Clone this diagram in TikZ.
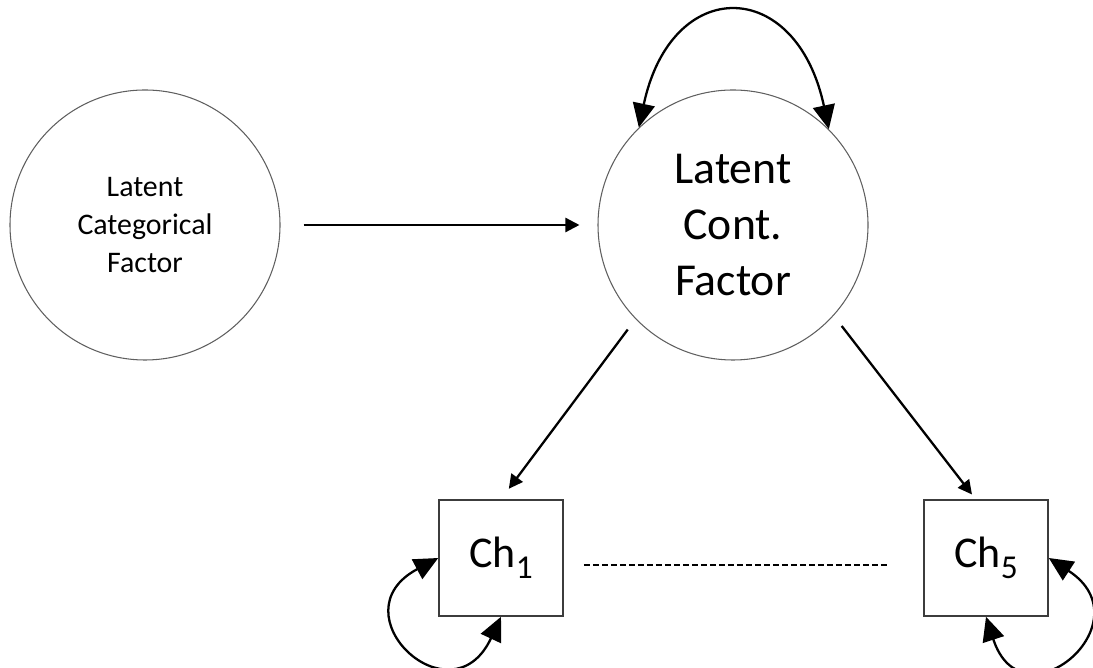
\documentclass[tikz,border=0pt]{standalone}
\usepackage{fontspec}
\setmainfont{Carlito}
\usetikzlibrary{arrows.meta, positioning}
\definecolor{ringgray}{RGB}{95, 95, 95}
\definecolor{boxgray}{RGB}{60, 60, 60}
\newcommand{\chsub}[1]{\raisebox{-0.25em}{\fontsize{19}{19}\selectfont #1}}

\begin{document}
\begin{tikzpicture}[
        latent/.style={circle, draw=ringgray, line width=0.6pt, minimum size=5.4cm, inner sep=0pt, align=center},
        manifest/.style={rectangle, draw=boxgray, line width=0.9pt, minimum width=2.48cm, minimum height=2.32cm, inner sep=0pt},
        pathline/.style={line width=1.3pt, -{Triangle[length=0.28cm, width=0.28cm]}},
        varloop/.style={line width=1.3pt, {Triangle[length=0.48cm, width=0.44cm]}-{Triangle[length=0.48cm, width=0.44cm]}},
        dashline/.style={line width=1.2pt, dash pattern=on 0.12cm off 0.06cm}
    ]
    \useasboundingbox (0,0) rectangle (21.86,13.34);

    % Latent factors
    \node[latent, font=\fontsize{17}{21.5}\selectfont] (cat) at (2.9, 8.84) {Latent\\Categorical\\Factor};
    \node[latent, font=\fontsize{26}{32}\selectfont] (cont) at (14.66, 8.84) {Latent\\Cont.\\Factor};

    % Indicators
    \node[manifest, font=\fontsize{25}{30}\selectfont] (ch1) at (10.02, 2.18) {Ch\chsub{1}};
    \node[manifest, font=\fontsize{25}{30}\selectfont] (ch5) at (19.72, 2.18) {Ch\chsub{5}};

    % Regression and loadings
    \draw[pathline, shorten <=0.46cm, shorten >=0.36cm] (cat) -- (cont);
    \draw[pathline, shorten <=0.26cm, shorten >=0.26cm] (cont.224) -- (ch1.north);
    \draw[pathline, shorten <=0.26cm, shorten >=0.12cm] (cont.318) -- (ch5.100);

    % Variances
    \draw[varloop] (cont.134) to[out=78, in=102, looseness=2.1] (cont.45);
    \draw[varloop] (ch1.west) to[out=208, in=245, looseness=3.5] (ch1.south);
    \draw[varloop] (ch5.east) to[out=327, in=288, looseness=3.5] (ch5.south);

    % Indicators in between
    \draw[dashline, shorten <=0.4cm, shorten >=0.72cm] ([yshift=-0.14cm]ch1.east) -- ([yshift=-0.14cm]ch5.west);
\end{tikzpicture}
\end{document}
